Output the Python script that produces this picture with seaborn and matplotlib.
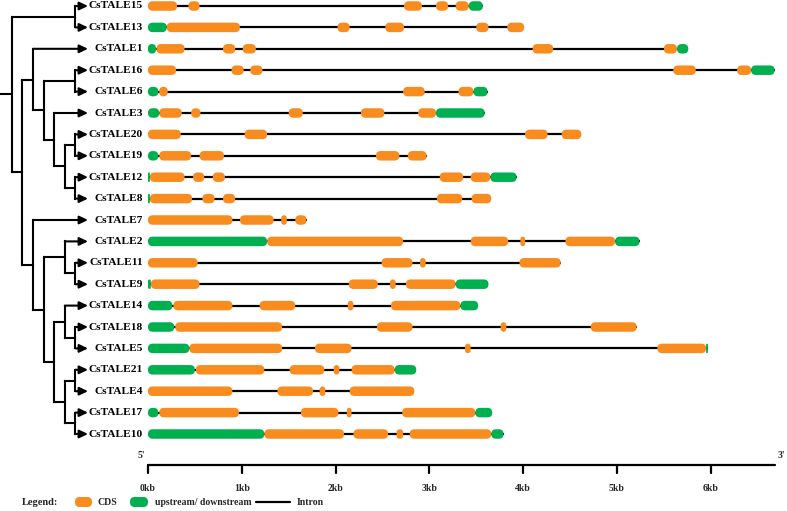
import matplotlib
matplotlib.use("Agg")
import matplotlib.pyplot as plt
from matplotlib.patches import FancyBboxPatch
import seaborn as sns

# ---------------- data ----------------
genes = ["CsTALE15", "CsTALE13", "CsTALE1", "CsTALE16", "CsTALE6", "CsTALE3",
         "CsTALE20", "CsTALE19", "CsTALE12", "CsTALE8", "CsTALE7", "CsTALE2",
         "CsTALE11", "CsTALE9", "CsTALE14", "CsTALE18", "CsTALE5", "CsTALE21",
         "CsTALE4", "CsTALE17", "CsTALE10"]

tree = [["CsTALE15", "CsTALE13"],
        [["CsTALE1", [["CsTALE16", "CsTALE6"],
                      ["CsTALE3", [["CsTALE20", "CsTALE19"], ["CsTALE12", "CsTALE8"]]]]],
         ["CsTALE7", [["CsTALE2", ["CsTALE11", "CsTALE9"]],
                      [["CsTALE14", ["CsTALE18", "CsTALE5"]],
                       [["CsTALE21", "CsTALE4"], ["CsTALE17", "CsTALE10"]]]]]]]

# CDS segments (kb)
cds = {
    "CsTALE15": [(0, 0.31), (0.43, 0.55), (2.73, 2.92), (3.07, 3.20), (3.28, 3.42)],
    "CsTALE13": [(0.2, 0.98), (2.02, 2.15), (2.53, 2.73), (3.50, 3.63), (3.83, 4.01)],
    "CsTALE1": [(0.09, 0.39), (0.80, 0.93), (1.01, 1.15), (4.10, 4.32), (5.50, 5.64)],
    "CsTALE16": [(0, 0.30), (0.89, 1.02), (1.09, 1.22), (5.60, 5.84), (6.28, 6.43)],
    "CsTALE6": [(0.12, 0.21), (2.72, 2.95), (3.31, 3.47)],
    "CsTALE3": [(0.12, 0.36), (0.46, 0.56), (1.50, 1.65), (2.27, 2.52), (2.88, 3.07)],
    "CsTALE20": [(0, 0.35), (1.03, 1.27), (4.02, 4.26), (4.41, 4.62)],
    "CsTALE19": [(0.12, 0.46), (0.55, 0.81), (2.43, 2.68), (2.77, 2.97)],
    "CsTALE12": [(0.02, 0.39), (0.48, 0.60), (0.69, 0.82), (3.11, 3.36), (3.44, 3.65)],
    "CsTALE8": [(0.02, 0.47), (0.58, 0.71), (0.80, 0.93), (3.08, 3.35), (3.45, 3.66)],
    "CsTALE7": [(0, 0.90), (0.98, 1.34), (1.42, 1.48), (1.57, 1.69)],
    "CsTALE2": [(1.27, 2.72), (3.44, 3.84), (3.97, 4.02), (4.45, 4.98)],
    "CsTALE11": [(0, 0.53), (2.49, 2.82), (2.90, 2.96), (3.96, 4.40)],
    "CsTALE9": [(0.03, 0.55), (2.14, 2.45), (2.58, 2.64), (2.75, 3.28)],
    "CsTALE14": [(0.27, 0.90), (1.19, 1.57), (2.13, 2.19), (2.59, 3.33)],
    "CsTALE18": [(0.29, 1.43), (2.44, 2.82), (3.76, 3.82), (4.72, 5.21)],
    "CsTALE5": [(0.44, 1.43), (1.78, 2.17), (3.38, 3.44), (5.43, 5.95)],
    "CsTALE21": [(0.51, 1.24), (1.51, 1.88), (1.98, 2.04), (2.17, 2.63)],
    "CsTALE4": [(0, 0.90), (1.38, 1.76), (1.83, 1.89), (2.15, 2.84)],
    "CsTALE17": [(0.12, 0.97), (1.63, 2.03), (2.12, 2.17), (2.71, 3.49)],
    "CsTALE10": [(1.24, 2.09), (2.19, 2.56), (2.65, 2.72), (2.79, 3.66)],
}

# upstream / downstream segments (kb)
utr = {
    "CsTALE15": [(3.42, 3.57)],
    "CsTALE13": [(0, 0.20)],
    "CsTALE1": [(0, 0.085), (5.64, 5.76)],
    "CsTALE16": [(6.43, 6.68)],
    "CsTALE6": [(0, 0.11), (3.47, 3.62)],
    "CsTALE3": [(0, 0.12), (3.07, 3.59)],
    "CsTALE20": [],
    "CsTALE19": [(0, 0.11)],
    "CsTALE12": [(0, 0.02), (3.65, 3.93)],
    "CsTALE8": [(0, 0.02)],
    "CsTALE7": [],
    "CsTALE2": [(0, 1.27), (4.98, 5.24)],
    "CsTALE11": [],
    "CsTALE9": [(0, 0.03), (3.28, 3.63)],
    "CsTALE14": [(0, 0.26), (3.33, 3.52)],
    "CsTALE18": [(0, 0.28)],
    "CsTALE5": [(0, 0.44), (5.95, 5.97)],
    "CsTALE21": [(0, 0.50), (2.63, 2.86)],
    "CsTALE4": [],
    "CsTALE17": [(0, 0.11), (3.49, 3.67)],
    "CsTALE10": [(0, 1.24), (3.66, 3.79)],
}

tick_values = [0, 1, 2, 3, 4, 5, 6]
tick_labels = ["0kb", "1kb", "2kb", "3kb", "4kb", "5kb", "6kb"]

# ---------------- style ----------------
sns.set_theme(style="white")
plt.rcParams["font.family"] = ["Liberation Serif", "DejaVu Serif"]

CDS_COLOR = "#F98C1E"
UTR_COLOR = "#00B050"

W, H = 787, 511
X0, PX_KB = 148.0, 93.8      # pixel of 0 kb, pixels per kb
Y0, ROW_PX = 6.0, 21.4       # pixel of first row, pixels per row

fig = plt.figure(figsize=(W / 100, H / 100), dpi=100)
ax = fig.add_axes([0, 0, 1, 1])
ax.set_xlim(-X0 / PX_KB, (W - X0) / PX_KB)
ax.set_ylim((H - Y0) / ROW_PX, -Y0 / ROW_PX)
ax.axis("off")


def px2x(px):
    return (px - X0) / PX_KB


def py2y(py):
    return (py - Y0) / ROW_PX


BAR_H = 9.5 / ROW_PX
ASPECT = PX_KB / ROW_PX
RAD = 4.7 / PX_KB


def pill(x0, x1, y, color, h=BAR_H):
    w = x1 - x0
    r = min(RAD, w / 2, h / ASPECT / 2)
    p = FancyBboxPatch((x0, y - h / 2), w, h,
                       boxstyle=f"round,pad=0,rounding_size={r}",
                       mutation_aspect=ASPECT, fc=color, ec="none", zorder=3)
    ax.add_patch(p)


# ---------------- gene structures ----------------
for i, g in enumerate(genes):
    segs = cds[g] + utr[g]
    end = max(s[1] for s in segs)
    ax.plot([0, end], [i, i], color="black", lw=1.6, zorder=2,
            solid_capstyle="butt")
    for a, b in cds[g]:
        pill(a, b, i, CDS_COLOR)
    for a, b in utr[g]:
        pill(a, b, i, UTR_COLOR)
    ax.text(px2x(143), i, g, ha="right", va="center", fontsize=8.2,
            fontweight="bold", color="black")

# ---------------- tree ----------------
TIP_PX = 88.0


def height(node):
    if isinstance(node, str):
        return 0
    return 1 + max(height(c) for c in node)


def node_x_px(node):
    return 86.0 - 10.6 * height(node)


def draw(node):
    """returns y of node"""
    if isinstance(node, str):
        return genes.index(node)
    xn = px2x(node_x_px(node))
    ys = []
    for c in node:
        yc = draw(c)
        ys.append(yc)
        if isinstance(c, str):
            ax.annotate("", xy=(px2x(TIP_PX), yc), xytext=(xn, yc),
                        arrowprops=dict(arrowstyle="-|>,head_length=0.42,head_width=0.2",
                                        color="black", lw=1.5,
                                        shrinkA=0, shrinkB=0))
        else:
            ax.plot([xn, px2x(node_x_px(c))], [yc, yc], color="black", lw=1.5,
                    solid_capstyle="projecting")
    ax.plot([xn, xn], [min(ys), max(ys)], color="black", lw=1.5,
            solid_capstyle="projecting")
    return (min(ys) + max(ys)) / 2


root_y = draw(tree)
ax.plot([px2x(0), px2x(node_x_px(tree))], [root_y, root_y], color="black", lw=1.5)

# ---------------- scale axis ----------------
ya = py2y(465)
ax.plot([0, px2x(775)], [ya, ya], color="black", lw=1.6)
for t, lab in zip(tick_values, tick_labels):
    ax.plot([t, t], [ya, ya + 8 / ROW_PX], color="black", lw=1.6)
    ax.text(t, py2y(488), lab, ha="center", va="center", fontsize=7,
            fontweight="bold")
ax.text(px2x(141), py2y(455), "5'", ha="center", va="center", fontsize=7,
        fontweight="bold")
ax.text(px2x(781), py2y(455), "3'", ha="center", va="center", fontsize=7,
        fontweight="bold")

# ---------------- legend ----------------
yl = py2y(502)
ax.text(px2x(22), yl, "Legend:", ha="left", va="center", fontsize=7.5, fontweight="bold")
pill(px2x(75), px2x(92), yl, CDS_COLOR, h=10 / ROW_PX)
ax.text(px2x(98), yl, "CDS", ha="left", va="center", fontsize=7, fontweight="bold")
pill(px2x(130), px2x(148), yl, UTR_COLOR, h=10 / ROW_PX)
ax.text(px2x(155), yl, "upstream/ downstream", ha="left", va="center", fontsize=7,
        fontweight="bold")
ax.plot([px2x(256), px2x(290)], [yl, yl], color="black", lw=1.6)
ax.text(px2x(297), yl, "Intron", ha="left", va="center", fontsize=7, fontweight="bold")

fig.savefig("out.png", dpi=100)
